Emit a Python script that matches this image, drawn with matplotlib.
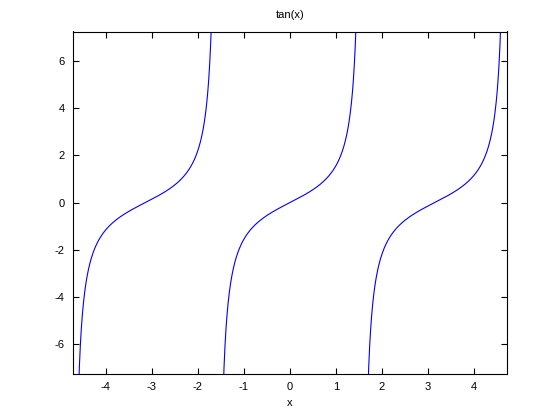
import numpy as np
import matplotlib
matplotlib.use('Agg')
import matplotlib.pyplot as plt

# Plot domain and y range
x_range = [-4.712, 4.712]
y_range = [-7.24, 7.24]
# Asymptotes splitting tan(x) into branches
asymptotes = [-4.712, -1.571, 1.571, 4.712]

xticks = [-4, -3, -2, -1, 0, 1, 2, 3, 4]
yticks = [-6, -4, -2, 0, 2, 4, 6]

plt.rcParams['font.family'] = ['Liberation Sans', 'DejaVu Sans']
plt.rcParams['font.size'] = 8
plt.rcParams['axes.unicode_minus'] = False

fig = plt.figure(figsize=(5.6, 4.2), dpi=100)
ax = fig.add_axes([0.13, 0.11, 0.775, 0.815])

# Draw each branch of tan(x) between the asymptotes
for a, b in zip(asymptotes[:-1], asymptotes[1:]):
    xs = np.linspace(a + 1e-3, b - 1e-3, 600)
    ys = np.tan(xs)
    keep = np.abs(ys) < 10
    ax.plot(xs[keep], ys[keep], color='#0000ff', linewidth=0.8)

ax.set_xlim(x_range)
ax.set_ylim(y_range)
ax.set_xticks(xticks)
ax.set_yticks(yticks)
ax.tick_params(direction='in', top=True, right=True, length=4, width=0.8, pad=6)
for s in ax.spines.values():
    s.set_linewidth(0.8)

ax.set_title('tan(x)', fontsize=8, pad=10)
ax.set_xlabel('x', fontsize=8, labelpad=4)

fig.savefig('out.png', dpi=100)
